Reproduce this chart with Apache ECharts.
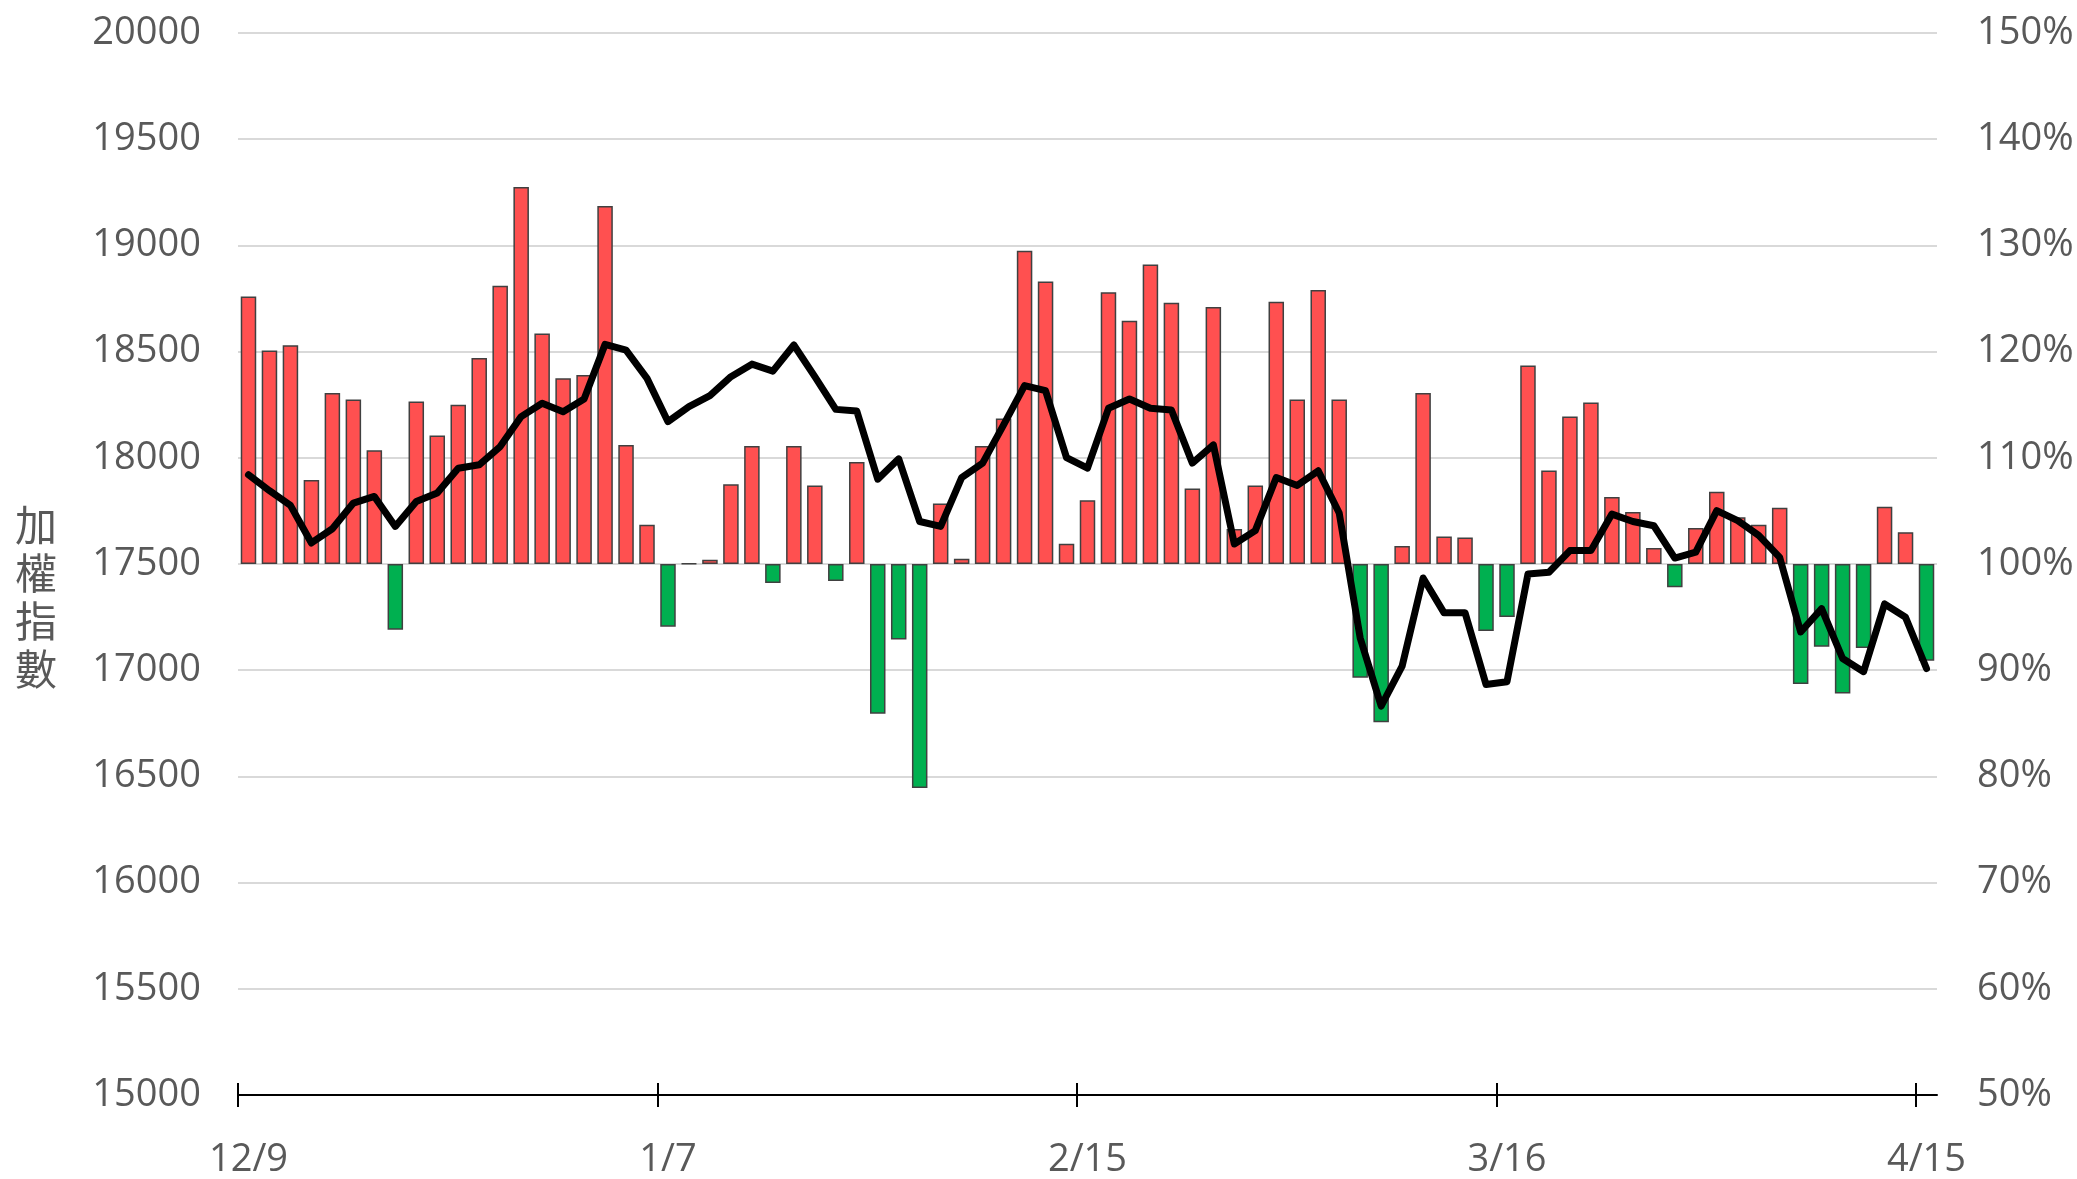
<!DOCTYPE html>
<html>
<head>
<meta charset="utf-8">
<title>加權指數</title>
<script src="https://cdn.jsdelivr.net/npm/echarts@6/dist/echarts.min.js"></script>
<style>
  html, body { margin: 0; padding: 0; background: #fff; }
  #chart { width: 2077px; height: 1179px; }
</style>
</head>
<body>
<div id="chart"></div>
<script>
// trading days 2021/12/9 ~ 2022/4/15
const dates = [
  '12/9', '12/10', '12/13', '12/14', '12/15', '12/16', '12/17', '12/20', '12/21', '12/22',
  '12/23', '12/24', '12/27', '12/28', '12/29', '12/30', '1/3', '1/4', '1/5', '1/6',
  '1/7', '1/10', '1/11', '1/12', '1/13', '1/14', '1/17', '1/18', '1/19', '1/20',
  '1/21', '1/24', '1/25', '1/26', '2/7', '2/8', '2/9', '2/10', '2/11', '2/14',
  '2/15', '2/16', '2/17', '2/18', '2/21', '2/22', '2/23', '2/24', '2/25', '3/1',
  '3/2', '3/3', '3/4', '3/7', '3/8', '3/9', '3/10', '3/11', '3/14', '3/15',
  '3/16', '3/17', '3/18', '3/21', '3/22', '3/23', '3/24', '3/25', '3/28', '3/29',
  '3/30', '3/31', '4/1', '4/6', '4/7', '4/8', '4/11', '4/12', '4/13', '4/14',
  '4/15'
]

// indexes of dates that get a label + tick
const labelIdx = [0, 20, 40, 60, 80]

// 加權指數 (left axis)
const indexValues = [
  17920, 17845, 17776, 17599, 17666, 17787, 17818, 17677, 17794, 17834,
  17951, 17967, 18053, 18194, 18257, 18217, 18277, 18534, 18507, 18374,
  18170, 18241, 18293, 18382, 18441, 18408, 18531, 18382, 18228, 18220,
  17899, 17995, 17700, 17677, 17907, 17975, 18155, 18340, 18316, 18001,
  17951, 18233, 18277, 18233, 18225, 17975, 18061, 17594, 17657, 17907,
  17870, 17939, 17740, 17152, 16831, 17019, 17434, 17270, 17270, 16933,
  16946, 17453, 17461, 17563, 17563, 17735, 17700, 17680, 17528, 17556,
  17751, 17704, 17635, 17531, 17180, 17290, 17055, 16993, 17312, 17249,
  17008
]

// ratio in % (right axis), bars start from 100%
const ratioPct = [
  125.2, 120.1, 120.6, 107.9, 116.1, 115.5, 110.7, 93.8, 115.3, 112.1,
  115.0, 119.4, 126.2, 135.5, 121.7, 117.5, 117.8, 133.7, 111.2, 103.7,
  94.1, 100.05, 100.4, 107.5, 111.1, 98.2, 111.1, 107.4, 98.4, 109.6,
  85.9, 92.9, 78.9, 105.7, 100.5, 111.1, 113.7, 129.5, 126.6, 101.9,
  106.0, 125.6, 122.9, 128.2, 124.6, 107.1, 124.2, 103.3, 107.4, 124.7,
  115.5, 125.8, 115.5, 89.3, 85.1, 101.7, 116.1, 102.6, 102.5, 93.7,
  95.0, 118.7, 108.8, 113.9, 115.2, 106.3, 104.9, 101.5, 97.8, 103.4,
  106.8, 104.4, 103.7, 105.3, 88.7, 92.2, 87.8, 92.1, 105.4, 103.0,
  90.9
]

const BASE_PCT = 100
const textColor = '#595959'
const font = '"Open Sans", "Noto Sans", sans-serif'

const chart = echarts.init(document.getElementById('chart'))

chart.setOption({
  backgroundColor: '#fff',
  animation: false,
  textStyle: { fontFamily: font },
  grid: { left: 238, right: 140, top: 33, bottom: 83 },
  graphic: [{
    type: 'text',
    left: 15,
    top: 501,
    style: {
      text: '加\n權\n指\n數',
      font: '42px "Noto Sans CJK TC"',
      lineHeight: 48,
      fill: textColor
    }
  }],
  xAxis: [
    {
      type: 'category',
      data: dates,
      boundaryGap: true,
      axisLine: { onZero: false, lineStyle: { color: '#000', width: 2 } },
      axisTick: { show: false },
      axisLabel: {
        interval: (i) => labelIdx.includes(i),
        color: textColor, fontSize: 38, margin: 46, fontFamily: font
      },
      splitLine: { show: false }
    },
    {
      // hidden value axis, only draws the crossing ticks on the category boundaries
      type: 'value',
      position: 'bottom',
      min: -0.5,
      max: dates.length - 0.5,
      offset: 12,
      axisLine: { show: false, onZero: false },
      axisTick: {
        show: true,
        inside: true,
        length: 24,
        customValues: labelIdx.map(i => i - 0.5),
        lineStyle: { color: '#000', width: 2 }
      },
      axisLabel: { show: false },
      splitLine: { show: false }
    }
  ],
  yAxis: [
    {
      type: 'value',
      min: 15000,
      max: 20000,
      interval: 500,
      axisLine: { show: false },
      axisTick: { show: false },
      axisLabel: { color: textColor, fontSize: 38, margin: 37, fontFamily: font, formatter: v => String(v) },
      splitLine: { lineStyle: { color: '#d9d9d9', width: 2 } }
    },
    {
      type: 'value',
      position: 'right',
      min: -50,
      max: 50,
      interval: 10,
      axisLine: { show: false },
      axisTick: { show: false },
      axisLabel: {
        color: textColor,
        fontSize: 38,
        margin: 40,
        fontFamily: font,
        formatter: v => (v + BASE_PCT) + '%'
      },
      splitLine: { show: false }
    }
  ],
  series: [
    {
      name: 'ratio',
      type: 'bar',
      xAxisIndex: 0,
      yAxisIndex: 1,
      barWidth: 15.5,
      data: ratioPct.map(v => +(v - BASE_PCT).toFixed(2)),
      itemStyle: {
        color: p => (p.value >= 0 ? '#ff5050' : '#00b050'),
        borderColor: '#404040',
        borderWidth: 1.5
      },
      z: 2
    },
    {
      name: '加權指數',
      type: 'line',
      xAxisIndex: 0,
      yAxisIndex: 0,
      data: indexValues,
      showSymbol: false,
      symbol: 'none',
      lineStyle: { color: '#000', width: 7, join: 'round', cap: 'round' },
      z: 5
    }
  ]
})

window.addEventListener('resize', () => chart.resize())
</script>
</body>
</html>
